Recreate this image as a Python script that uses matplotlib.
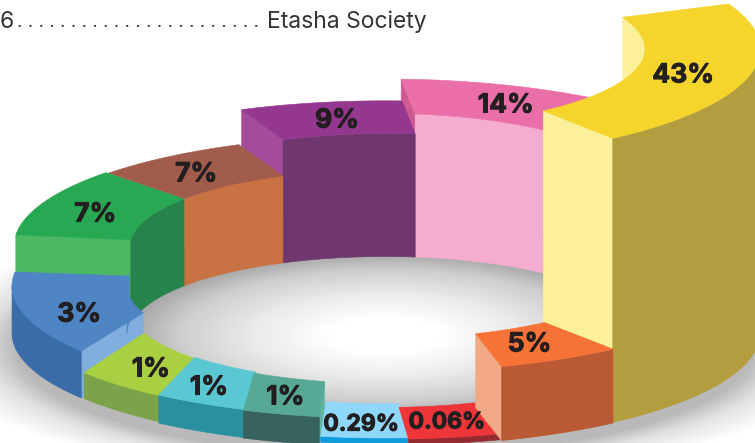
import numpy as np
import matplotlib
matplotlib.use('Agg')
import matplotlib.pyplot as plt
import matplotlib.patheffects as pe

# chart values, in drawing order (back of the ring first)
labels = ['14%', '9%', '7%', '7%', '3%', '1%', '1%', '1%', '0.29%', '0.06%', '43%', '5%']
heights = [143, 123, 87, 87, 47, 26, 28, 28, 6, 6, 284, 74]

# the ring is not to scale, so the slice boundaries are read off the picture (degrees)
outer_start = [48, 87.3, 113.4, 138.8, 172.8, 216, 233, 248, 260, 273.6, 307.4, 288]
outer_end = [87.5, 113.2, 138.8, 174.3, 215.5, 233, 248, 260, 273.6, 288, 383.6, 307.2]
inner_start = [51.7, 83.2, 113.6, 142, 172.6, 199.8, 222.5, 240, 256.7, 273, 307.5, 290]
inner_end = [83.2, 113.6, 142, 175.5, 200.4, 222.5, 240, 256.7, 273, 289.5, 384, 307]
radius_in = [255, 255, 255, 255, 258, 256, 258, 262, 256, 268, 260, 265]
radius_out = [370, 364, 368, 371, 373, 372, 376, 378, 370, 374, 375, 377]
label_angle = [67.4, 98.9, 127.4, 158.7, 195.9, 220.5, 236.6, 251.6, 265.7, 281.3, 345, 297.6]
label_radius = [314, 310, 311, 311, 318, 308, 320, 316, 318, 316, 308.6, 312]
label_sizes = [19, 19, 19, 19, 19, 19, 19, 19, 16.5, 16.5, 19, 19]

top_colors = ['#EA6FA8', '#93378F', '#A15C4C', '#29A854', '#4D85C5', '#A9D043',
              '#5AC8D3', '#57A995', '#8FD8FA', '#EE3539', '#F5D52B', '#F77236']
inner_colors = ['#F5ADCF', '#70376F', '#C97345', '#26834C', '#4D85C5', '#7DA34A',
                '#2A8F9F', '#38625F', '#0E9CDD', '#952B30', '#FCF09A', '#BA5A34']
outer_colors = ['#F5ADCF', '#70376F', '#C97345', '#26834C', '#3A6CA8', '#7DA34A',
                '#2A8F9F', '#38625F', '#0E9CDD', '#952B30', '#B29D3F', '#BA5A34']
cut_side = ['end', 'end', None, 'end', 'end', None, None, 'end', None, None, 'start', 'start']
cut_colors = ['#CF5A92', '#A54B9B', None, '#4CB863', '#80AFDF', None, None, '#5FB5A0',
              None, None, '#FCF09A', '#F2A988']

cx, cy = 385, 333
tilt = 0.3


def ring_point(r, th, z):
    th = np.radians(th)
    return cx + r * np.cos(th), cy - z - tilt * r * np.sin(th)


def fill_poly(ax, xs, ys, color):
    ax.fill(xs, ys, color=color, lw=0.4, joinstyle='round')


def draw_wall(ax, r, th0, th1, z, color):
    th = np.linspace(th0, th1, 60)
    x0, y0 = ring_point(r, th, 0)
    x1, y1 = ring_point(r, th, z)
    fill_poly(ax, np.r_[x0, x1[::-1]], np.r_[y0, y1[::-1]], color)


fig = plt.figure(figsize=(7.55, 4.43), dpi=100)
ax = fig.add_axes([0, 0, 1, 1])
ax.set_xlim(0, 755)
ax.set_ylim(443, 0)
ax.axis('off')

# soft shadow under the ring and grey floor inside the hole
yy, xx = np.mgrid[0:443, 0:755]
d_shadow = np.sqrt(((xx - 385) / 385.0) ** 2 + ((yy - 345) / 115.0) ** 2)
floor = np.interp(d_shadow, [0.96, 1.05, 1.2], [185, 225, 255])
d_hole = np.sqrt(((xx - 385) / 258.0) ** 2 + ((yy - 335) / 82.0) ** 2)
hole = np.interp(d_hole, [0.2, 0.5, 0.8, 1.0], [255, 235, 205, 165])
floor = np.where(d_hole < 1, hole, floor)
ax.imshow(floor, cmap='gray', vmin=0, vmax=255, extent=(0, 755, 443, 0),
          aspect='auto', interpolation='bilinear', zorder=0)

for i in range(len(labels)):
    z = heights[i]
    r0, r1 = radius_in[i], radius_out[i]

    # cut face on the side of a lower neighbour
    if cut_side[i] == 'end':
        ends = (outer_end[i], inner_end[i])
    else:
        ends = (outer_start[i], inner_start[i])
    if cut_side[i] is not None:
        xa, ya = ring_point(r1, ends[0], z)
        xb, yb = ring_point(r0, ends[1], z)
        xc, yc = ring_point(r0, ends[1], 0)
        xd, yd = ring_point(r1, ends[0], 0)
        fill_poly(ax, [xa, xb, xc, xd], [ya, yb, yc, yd], cut_colors[i])

    # inner wall shows on the far half, outer wall on the near half
    for turn in (0, 360):
        a0 = max(inner_start[i], turn)
        a1 = min(inner_end[i], turn + 180)
        if a1 > a0:
            draw_wall(ax, r0, a0, a1, z, inner_colors[i])
    a0 = max(outer_start[i], 180)
    a1 = min(outer_end[i], 360)
    if a1 > a0:
        draw_wall(ax, r1, a0, a1, z, outer_colors[i])

    # top surface
    xo, yo = ring_point(r1, np.linspace(outer_start[i], outer_end[i], 80), z)
    xi, yi = ring_point(r0, np.linspace(inner_end[i], inner_start[i], 80), z)
    fill_poly(ax, np.r_[xo, xi], np.r_[yo, yi], top_colors[i])

for i in range(len(labels)):
    x, y = ring_point(label_radius[i], label_angle[i], heights[i])
    ax.text(x, y + 2.5, labels[i], ha='center', va='center', fontsize=label_sizes[i],
            fontweight='bold', family='Inter', color='#231F20',
            path_effects=[pe.withStroke(linewidth=0.7, foreground='#231F20')])

ax.text(0, 22, '6', ha='left', va='center', fontsize=16.5, family='Inter', color='#333333')
ax.text(17, 22, ' '.join(['.'] * 23), ha='left', va='center', fontsize=13.5,
        family='Inter', color='#333333')
ax.text(267, 22, 'Etasha Society', ha='left', va='center', fontsize=16.5,
        family='Inter', color='#333333')

fig.savefig('out.png', dpi=100)
